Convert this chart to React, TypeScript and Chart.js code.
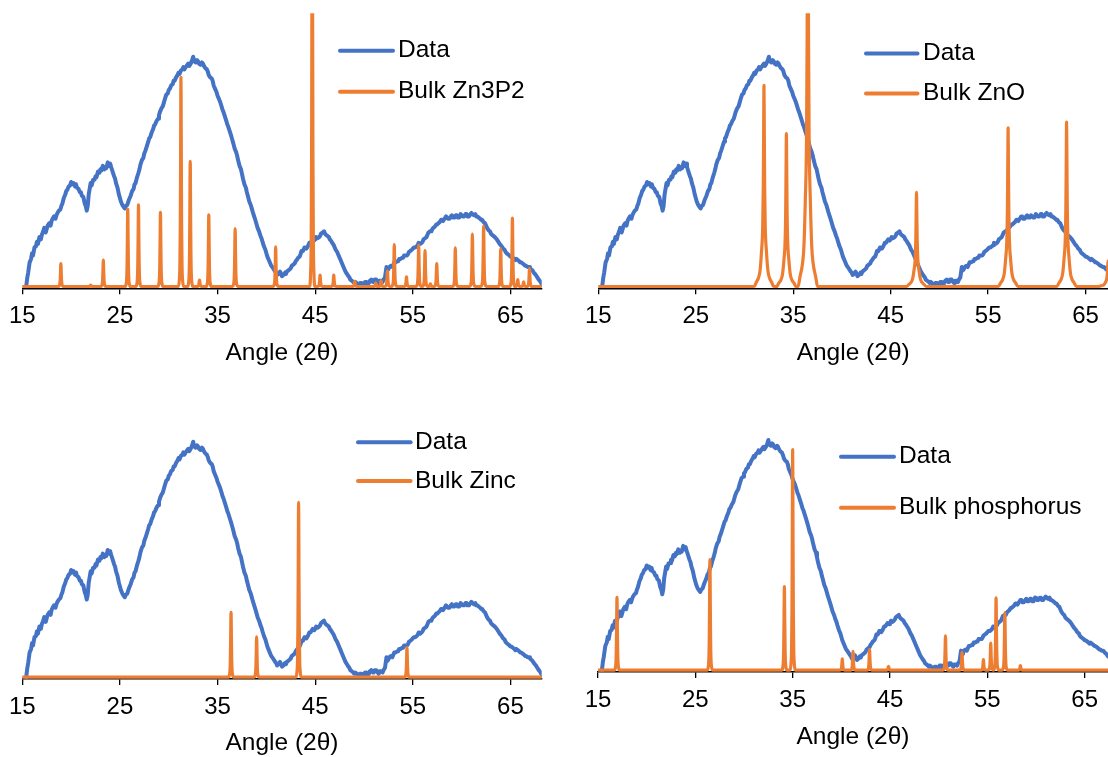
import React, { useEffect, useRef } from 'react';
import { Chart, registerables } from 'chart.js';

Chart.register(...registerables);

const FONT = '"Liberation Sans", Arial, Helvetica, sans-serif';
const BLUE = '#4472C4';
const ORANGE = '#ED7D31';

// Measured film pattern: [2θ, intensity as % of the main hump]
const measuredPattern: [number, number][] = [
  [15.4, 0], [15.5, 3.5], [15.6, 6], [15.75, 10.5], [15.9, 12], [16, 14.5], [16.1, 13.5], [16.25, 17],
  [16.4, 17.5], [16.5, 19.5], [16.6, 18.5], [16.75, 21.5], [16.9, 20.5], [17, 22.5], [17.1, 23.5], [17.25, 25.5],
  [17.4, 23.5], [17.5, 25], [17.6, 26.5], [17.75, 27.5], [17.9, 26.5], [18, 28.5], [18.1, 29.5], [18.25, 30.5],
  [18.4, 29.5], [18.5, 31], [18.6, 32], [18.75, 33], [18.9, 33.5], [19, 35], [19.1, 36], [19.25, 38.5],
  [19.4, 40], [19.5, 41.5], [19.6, 42], [19.75, 43.5], [19.9, 44], [20, 45.5], [20.1, 44.5], [20.25, 45],
  [20.4, 43.5], [20.5, 44.5], [20.6, 43], [20.75, 42.5], [20.9, 41], [21, 41], [21.1, 39.5], [21.25, 39],
  [21.4, 36], [21.5, 35], [21.6, 33], [21.7, 35], [21.8, 40], [21.9, 42.5], [22, 45], [22.1, 44],
  [22.25, 46.5], [22.4, 46.5], [22.5, 48], [22.6, 47.5], [22.75, 50], [22.9, 49.5], [23, 51], [23.1, 50.5],
  [23.25, 52.5], [23.4, 51], [23.5, 52], [23.6, 51.5], [23.75, 54], [23.9, 52.5], [24, 53.5], [24.1, 52],
  [24.25, 50], [24.4, 48], [24.5, 47], [24.6, 45], [24.75, 43], [24.9, 40], [25, 38.5], [25.1, 37],
  [25.25, 35.5], [25.4, 34.5], [25.5, 34], [25.6, 35], [25.75, 35.5], [25.9, 37.5], [26, 38.5], [26.1, 39.5],
  [26.25, 41.5], [26.4, 42.5], [26.5, 44.5], [26.6, 45], [26.75, 47.5], [26.9, 49.5], [27, 51], [27.1, 53],
  [27.25, 55], [27.4, 56], [27.5, 58], [27.6, 59], [27.75, 61], [27.9, 63], [28, 64.5], [28.1, 65],
  [28.25, 67], [28.4, 68.5], [28.5, 70], [28.6, 70.5], [28.75, 72], [28.9, 73], [29, 74.5], [29.1, 76],
  [29.25, 77.5], [29.4, 78.5], [29.5, 80], [29.6, 81.5], [29.75, 83.5], [29.9, 84], [30, 85.5], [30.1, 86],
  [30.25, 87.5], [30.4, 88], [30.5, 89.5], [30.6, 89.5], [30.75, 91], [30.9, 92], [31, 93], [31.1, 92.5],
  [31.25, 94], [31.4, 94.5], [31.5, 95.5], [31.6, 94.5], [31.75, 95.5], [31.9, 96.5], [32, 97], [32.1, 96],
  [32.25, 97], [32.4, 98.5], [32.5, 100], [32.6, 98], [32.75, 97.5], [32.9, 98.5], [33, 98], [33.1, 97],
  [33.25, 96.5], [33.4, 97.5], [33.5, 97], [33.6, 96], [33.75, 95], [33.9, 94.5], [34, 93.5], [34.1, 92],
  [34.25, 91], [34.4, 90.5], [34.5, 89.5], [34.6, 87.5], [34.75, 86], [34.9, 84.5], [35, 83], [35.1, 82],
  [35.25, 80.5], [35.4, 78.5], [35.5, 77], [35.6, 76], [35.75, 74], [35.9, 72], [36, 70.5], [36.1, 69.5],
  [36.25, 67.5], [36.4, 65.5], [36.5, 64], [36.6, 62.5], [36.75, 60], [36.9, 58.5], [37, 57], [37.1, 55],
  [37.25, 52.5], [37.4, 51], [37.5, 49], [37.6, 47], [37.75, 44.5], [37.9, 43], [38, 41], [38.1, 39.5],
  [38.25, 37], [38.4, 35.5], [38.5, 34], [38.6, 32.5], [38.75, 30.5], [38.9, 28.5], [39, 27], [39.1, 25.5],
  [39.25, 24], [39.4, 22], [39.5, 21], [39.6, 19.5], [39.75, 17.5], [39.9, 16], [40, 14.5], [40.1, 13],
  [40.25, 11.5], [40.4, 10], [40.5, 9], [40.6, 8.5], [40.75, 7.5], [40.9, 6.5], [41, 6], [41.1, 5],
  [41.25, 5.5], [41.4, 6.5], [41.5, 5.5], [41.6, 4.5], [41.75, 5], [41.9, 6], [42, 5.5], [42.1, 6.5],
  [42.25, 7], [42.4, 7.5], [42.5, 8], [42.6, 9], [42.75, 9.5], [42.9, 10], [43, 11], [43.1, 11.5],
  [43.25, 12.5], [43.4, 13], [43.5, 14], [43.6, 15.5], [43.75, 15.5], [43.9, 17], [44, 17], [44.1, 16.5],
  [44.25, 17.5], [44.4, 19], [44.5, 19], [44.6, 19.5], [44.75, 20.5], [44.9, 20], [45, 20.5], [45.1, 21.5],
  [45.25, 21], [45.4, 21.5], [45.5, 22], [45.6, 23], [45.75, 23.5], [45.9, 24], [46, 23], [46.1, 22.5],
  [46.25, 22], [46.4, 21.5], [46.5, 20.5], [46.6, 20], [46.75, 19], [46.9, 18], [47, 17], [47.1, 16],
  [47.25, 15], [47.4, 13.5], [47.5, 12.5], [47.6, 11.5], [47.75, 10], [47.9, 8.5], [48, 7.5], [48.1, 6.5],
  [48.25, 5.5], [48.4, 4.5], [48.5, 4], [48.6, 3], [48.75, 2.5], [48.9, 2], [49, 1.5], [49.1, 2],
  [49.25, 1.5], [49.4, 1], [49.5, 0.5], [49.6, 1.5], [49.75, 1.5], [49.9, 0.5], [50, 1], [50.1, 2],
  [50.25, 2], [50.4, 1], [50.5, 1.5], [50.6, 2.5], [50.75, 3], [50.9, 2], [51, 2], [51.1, 3],
  [51.25, 3], [51.4, 2], [51.5, 1.5], [51.6, 2.5], [51.75, 2.5], [51.9, 2], [52, 3], [52.15, 4],
  [52.3, 8.5], [52.4, 7], [52.5, 7.5], [52.6, 8.5], [52.75, 9], [52.9, 8.5], [53, 9.5], [53.1, 10.5],
  [53.25, 10.5], [53.4, 11], [53.5, 11], [53.6, 12], [53.75, 12], [53.9, 12.5], [54, 12.5], [54.1, 13.5],
  [54.25, 13.5], [54.4, 13.5], [54.5, 14], [54.6, 15], [54.75, 15.5], [54.9, 16], [55, 16.5], [55.1, 17],
  [55.25, 17], [55.4, 17.5], [55.5, 18], [55.6, 19], [55.75, 18.5], [55.9, 19], [56, 19.5], [56.1, 20.5],
  [56.25, 21], [56.4, 21.5], [56.5, 22.5], [56.6, 23.5], [56.75, 24], [56.9, 24], [57, 25], [57.1, 25.5],
  [57.25, 26], [57.4, 27], [57.5, 27], [57.6, 27.5], [57.75, 28], [57.9, 29], [58, 29], [58.1, 28.5],
  [58.25, 29.5], [58.4, 30.5], [58.5, 30.5], [58.6, 29.5], [58.75, 29.5], [58.9, 30.5], [59, 31], [59.1, 30],
  [59.25, 30], [59.4, 31], [59.5, 31], [59.6, 30], [59.75, 30], [59.9, 31.5], [60, 31], [60.1, 30.5],
  [60.25, 30.5], [60.4, 31.5], [60.5, 31.5], [60.6, 30.5], [60.75, 30.5], [60.9, 31.5], [61, 32], [61.1, 31.5],
  [61.25, 31], [61.4, 31.5], [61.5, 30.5], [61.6, 30.5], [61.75, 30], [61.9, 29.5], [62, 29], [62.1, 29],
  [62.25, 28], [62.4, 27.5], [62.5, 26.5], [62.6, 25.5], [62.75, 24.5], [62.9, 24], [63, 23], [63.1, 22.5],
  [63.25, 22], [63.4, 21.5], [63.5, 21], [63.6, 20.5], [63.75, 19.5], [63.9, 18.5], [64, 18], [64.1, 17.5],
  [64.25, 16.5], [64.4, 16], [64.5, 15], [64.6, 14.5], [64.75, 14], [64.9, 13.5], [65, 13], [65.1, 13],
  [65.25, 12.5], [65.4, 12], [65.5, 11.5], [65.6, 12], [65.75, 11.5], [65.9, 11], [66, 10.5], [66.1, 10.5],
  [66.25, 10], [66.4, 9.5], [66.5, 9], [66.6, 9], [66.75, 8.5], [66.9, 8.5], [67, 8], [67.1, 7.5],
  [67.25, 7], [67.4, 6], [67.5, 5.5], [67.6, 5], [67.75, 4], [67.9, 3], [68, 2.5], [68.15, 1.5],
  [68.3, 0.5],
];

// Reference reflections: [2θ, relative height]
const zn3p2Peaks: [number, number][] = [
  [18.95, 10], [22.0, 0.6], [23.3, 11.5], [25.8, 33.7], [26.9, 35.5], [29.15, 32.3], [31.25, 91],
  [32.2, 54.5], [33.15, 2.8], [34.1, 31.2], [36.8, 25.2], [40.95, 17.2], [44.7, 200], [45.5, 5],
  [46.9, 5], [49.05, 2.2], [51.2, 1.5], [51.75, 2.5], [52.4, 6.8], [53.1, 18.2], [54.35, 4.2],
  [55.6, 18], [56.25, 15.6], [56.8, 1.2], [57.45, 10], [59.35, 16.8], [61.1, 22.8], [62.25, 26.4],
  [64.0, 16.4], [65.2, 29.8], [65.75, 3], [66.35, 2], [66.95, 7.8],
];
const znoPeaks: [number, number][] = [
  [32.0, 87.5], [34.3, 66.5], [36.5, 220], [47.65, 41], [57.05, 69], [63.05, 71.5], [67.3, 11],
];
const zincPeaks: [number, number][] = [
  [36.38, 27.5], [39.0, 17.1], [43.3, 74.2], [54.4, 12.6],
];
const phosphorusPeaks: [number, number][] = [
  [16.95, 31.6], [26.5, 48], [34.15, 36.3], [35.0, 95.8], [40.1, 4.9], [41.2, 8.2], [42.9, 8.9],
  [44.85, 1.7], [50.7, 14.9], [52.4, 7.7], [54.6, 4.6], [55.35, 11.8], [55.9, 31.4], [56.8, 25],
  [58.4, 2],
];

const angleTicks = [15, 25, 35, 45, 55, 65];

// Line shapes used to draw each reflection: [offset in 2θ, fraction of height]
const sharpProfile: [number, number][] = [
  [-0.26, 0], [-0.17, 0.03], [-0.11, 0.1], [-0.07, 0.28], [-0.04, 0.58], [-0.015, 0.92], [0, 1],
  [0.015, 0.92], [0.04, 0.58], [0.07, 0.28], [0.11, 0.1], [0.17, 0.03], [0.26, 0],
];
const broadProfile: [number, number][] = [
  [-1.0, 0], [-0.8, 0.02], [-0.55, 0.045], [-0.4, 0.08], [-0.26, 0.17], [-0.13, 0.3], [-0.07, 0.5], [-0.03, 0.8], [0, 1],
  [0.03, 0.8], [0.07, 0.5], [0.13, 0.3], [0.26, 0.17], [0.4, 0.08], [0.55, 0.045], [0.8, 0.02], [1.0, 0],
];

function referenceTrace(peaks: [number, number][], profile: [number, number][]) {
  const pts: { x: number; y: number }[] = [{ x: 14, y: 0 }];
  for (const [center, height] of peaks) {
    for (const [dx, f] of profile) pts.push({ x: center + dx, y: height * f });
  }
  pts.push({ x: 70, y: 0 });
  return pts;
}

type PanelSpec = {
  name: string;
  peaks: [number, number][];
  profile: [number, number][];
  xMax: number;
  box: { left: number; top: number; width: number; height: number };
  plot: { left: number; right: number; top: number; axis: number; humpTop: number };
  titleY: number;
  legend: { x0: number; x1: number; textX: number; rows: [number, number] };
};

const panels: PanelSpec[] = [
  {
    name: 'Bulk Zn3P2', peaks: zn3p2Peaks, profile: sharpProfile, xMax: 68.2,
    box: { left: 0, top: 0, width: 554, height: 380 },
    plot: { left: 22.3, right: 541.7, top: 13.3, axis: 288.3, humpTop: 56.7 },
    titleY: 353,
    legend: { x0: 340, x1: 393, textX: 398, rows: [50.7, 91.7] },
  },
  {
    name: 'Bulk ZnO', peaks: znoPeaks, profile: broadProfile, xMax: 67.3,
    box: { left: 554, top: 0, width: 554, height: 380 },
    plot: { left: 598.3, right: 1108, top: 13.3, axis: 288.3, humpTop: 56.7 },
    titleY: 353,
    legend: { x0: 866, x1: 917.5, textX: 923, rows: [53.5, 93.5] },
  },
  {
    name: 'Bulk Zinc', peaks: zincPeaks, profile: sharpProfile, xMax: 68.2,
    box: { left: 0, top: 380, width: 554, height: 377 },
    plot: { left: 22.3, right: 541.7, top: 398, axis: 679, humpTop: 441.7 },
    titleY: 743,
    legend: { x0: 358, x1: 410.6, textX: 415, rows: [442.3, 481] },
  },
  {
    name: 'Bulk phosphorus', peaks: phosphorusPeaks, profile: sharpProfile, xMax: 67.4,
    box: { left: 554, top: 380, width: 554, height: 377 },
    plot: { left: 598, right: 1108, top: 397, axis: 672, humpTop: 440 },
    titleY: 737,
    legend: { x0: 841, x1: 894, textX: 899, rows: [456.7, 507.7] },
  },
];

const TICK_SIZE = 24;
const LABEL_SIZE = 24.5;
const TITLE_LINE = LABEL_SIZE * 1.2;

function PatternPanel({ spec }: { spec: PanelSpec }) {
  const ref = useRef<HTMLCanvasElement | null>(null);

  useEffect(() => {
    const canvas = ref.current;
    if (!canvas) return;
    const { box, plot, legend } = spec;
    const lift = 1.8;
    const zeroY = plot.axis - lift;
    const perUnit = (zeroY - plot.humpTop) / 100;
    const yMin = -lift / perUnit;
    const yMax = (zeroY - plot.top) / perUnit;
    const scaleBottom = spec.titleY + TITLE_LINE / 2;
    const scaleHeight = scaleBottom - plot.axis;

    const legendPlugin = {
      id: 'panelLegend',
      afterDraw(chart: Chart) {
        const ctx = chart.ctx;
        ctx.save();
        const items: [string, string][] = [['Data', BLUE], [spec.name, ORANGE]];
        items.forEach(([label, color], i) => {
          const y = legend.rows[i] - box.top;
          ctx.strokeStyle = color;
          ctx.lineWidth = 4;
          ctx.lineCap = 'round';
          ctx.beginPath();
          ctx.moveTo(legend.x0 - box.left, y);
          ctx.lineTo(legend.x1 - box.left, y);
          ctx.stroke();
          ctx.fillStyle = '#000';
          ctx.font = `${LABEL_SIZE}px ${FONT}`;
          ctx.textBaseline = 'middle';
          ctx.textAlign = 'left';
          ctx.fillText(label, legend.textX - box.left, y);
        });
        ctx.restore();
      },
    };

    const chart = new Chart(canvas, {
      type: 'line',
      data: {
        datasets: [
          {
            label: 'Data',
            data: measuredPattern.map(([x, y]) => ({ x, y })),
            borderColor: BLUE,
            borderWidth: 4,
            pointRadius: 0,
            tension: 0,
            borderJoinStyle: 'round',
            borderCapStyle: 'round',
            order: 1,
          },
          {
            label: spec.name,
            data: referenceTrace(spec.peaks, spec.profile),
            borderColor: ORANGE,
            borderWidth: 3.2,
            pointRadius: 0,
            cubicInterpolationMode: 'monotone',
            borderJoinStyle: 'round',
            borderCapStyle: 'round',
            order: 0,
          },
        ],
      },
      options: {
        animation: false,
        responsive: false,
        events: [],
        layout: {
          padding: {
            left: plot.left - box.left,
            right: box.left + box.width - plot.right,
            top: plot.top - box.top,
            bottom: box.top + box.height - scaleBottom,
          },
        },
        plugins: {
          legend: { display: false },
          tooltip: { enabled: false },
          title: { display: false },
        },
        scales: {
          x: {
            type: 'linear',
            min: 15,
            max: spec.xMax,
            afterBuildTicks: (scale: any) => {
              scale.ticks = angleTicks.map((value) => ({ value }));
            },
            afterFit: (scale: any) => {
              scale.height = scaleHeight;
            },
            grid: {
              display: true,
              drawOnChartArea: false,
              drawTicks: true,
              tickLength: 6,
              color: '#000',
              lineWidth: 1.3,
            },
            border: { display: true, color: '#000', width: 1.5 },
            ticks: {
              color: '#000',
              font: { family: FONT, size: TICK_SIZE },
              padding: 8,
              maxRotation: 0,
              autoSkip: false,
            },
            title: {
              display: true,
              text: 'Angle (2θ)',
              color: '#000',
              font: { family: FONT, size: LABEL_SIZE },
              padding: 0,
            },
          },
          y: { display: false, min: yMin, max: yMax },
        },
      },
      plugins: [legendPlugin],
    } as any);

    return () => chart.destroy();
  }, [spec]);

  return (
    <canvas
      ref={ref}
      width={spec.box.width}
      height={spec.box.height}
      style={{
        position: 'absolute',
        left: spec.box.left,
        top: spec.box.top,
        width: spec.box.width,
        height: spec.box.height,
      }}
    />
  );
}

export default function App() {
  return (
    <div style={{ position: 'absolute', left: 0, top: 0, width: 1108, height: 757, background: '#fff' }}>
      {panels.map((p) => (
        <PatternPanel key={p.name} spec={p} />
      ))}
    </div>
  );
}
